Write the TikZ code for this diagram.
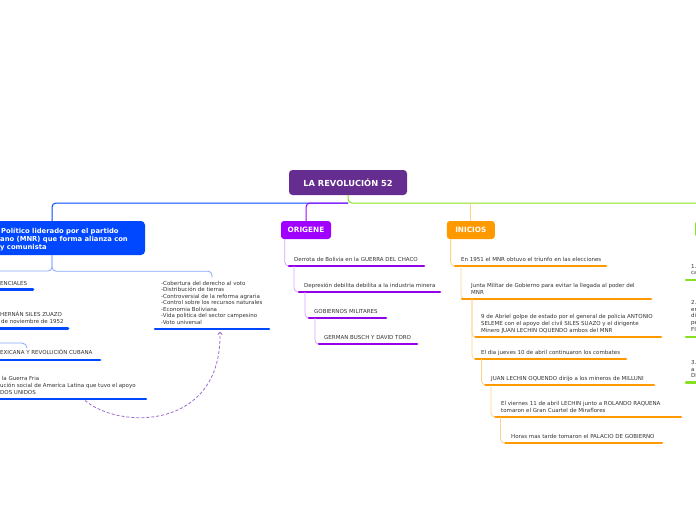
\documentclass[tikz,border=0pt]{standalone}
\usepackage{fontspec}
\setmainfont{DejaVu Sans}
\usetikzlibrary{arrows.meta}
\definecolor{tx}{HTML}{333333}
\definecolor{rootc}{HTML}{662D91}
\definecolor{blueM}{HTML}{0048FF}
\definecolor{blueL}{HTML}{88A8FF}
\definecolor{purM}{HTML}{A000FF}
\definecolor{purU}{HTML}{9400E8}
\definecolor{purL}{HTML}{D9A6FF}
\definecolor{oraM}{HTML}{FF9900}
\definecolor{oraL}{HTML}{FFD28A}
\definecolor{grM}{HTML}{88E020}
\definecolor{dashc}{HTML}{9A6AD0}
\tikzset{
  txt/.style={anchor=base west, inner sep=0pt, text=tx, font=\fontsize{5.5}{6.7}\selectfont, align=left},
  ulB/.style={draw=blueM, line width=2.6pt, line cap=round},
  ulP/.style={draw=purU, line width=2.6pt, line cap=round},
  ulO/.style={draw=oraM, line width=2.6pt, line cap=round},
  ulG/.style={draw=grM, line width=2.6pt, line cap=round},
  con/.style={line width=0.8pt, rounded corners=4pt},
  mainline/.style={line width=1pt, rounded corners=4pt},
  headbox/.style={rounded corners=3pt, inner sep=0pt, text=white, font=\bfseries\fontsize{7.3}{9}\selectfont},
  rootbox/.style={fill=rootc, rounded corners=3.5pt, minimum width=118pt, minimum height=25pt, inner sep=0pt, text=white, font=\bfseries\fontsize{8.3}{10}\selectfont},
}
\begin{document}
\begin{tikzpicture}[x=1pt,y=-1pt]
\useasboundingbox (0,0) rectangle (696,520);
\fill[white] (0,0) rectangle (696,520);

% main nodes
\node[rootbox] (root) at (348,182.5) {LA REVOLUCIÓN 52};
\node[fill=blueM, rounded corners=4pt, minimum width=186pt, minimum height=34pt, inner sep=0pt] (mnr) at (52,238) {};
\node[anchor=base west, inner sep=0pt, text=white, font=\bfseries\fontsize{6.8}{8.3}\selectfont, align=left] (mnrt) at (0,249.6)
  {\hspace{1pt}Político liderado por el partido\\ano (MNR) que forma alianza con\\y comunista};
\node[headbox, fill=purM, minimum width=50pt, minimum height=18pt] (og) at (306,230) {ORIGENE};
\node[headbox, fill=oraM, minimum width=48pt, minimum height=18pt] (ini) at (470.8,230) {INICIOS};
\node[headbox, fill=grM, minimum width=30pt, minimum height=16pt] (grn) at (710,229) {};

% main connectors
\coordinate (hub) at (348,203);
\coordinate (hubo) at (470.8,203);
\draw[mainline, blueM] (hub) -| (mnr.north);
\draw[mainline, purM] (hub) -| (og.north);
\draw[mainline, grM] (root.south) -- (hub) -| (grn.north);
\draw[con, oraL] (hubo) -- (ini.north);

% blue branch
\coordinate (bl) at (-10,271);
\coordinate (cobtop) at (212,277.5);
\draw[con, blueL] (mnr.south) |- (bl);
\draw[con, blueL] (mnr.south) -- ++(0,16) -| (cobtop);
\coordinate (bc1) at (-5,343);
\coordinate (bc2) at (27,348);
\draw[con, blueL, rounded corners=5pt] (bc1) -| (bc2);

\node[txt] (b1t) at (0,285.3) {ENCIALES};
\coordinate (b1) at (-10,289.5); \coordinate (b1e) at (33,289.5);
\draw[ulB] (b1) -- (b1e);
\node[txt] (b2t) at (0,323) {HERNÁN SILES ZUAZO\\\hspace{1pt}de noviembre de 1952};
\coordinate (b2) at (-10,328.3); \coordinate (b2e) at (68,328.3);
\draw[ulB] (b2) -- (b2e);
\node[txt] (b3t) at (0,354.7) {EXICANA Y REVOLUCIÓN CUBANA};
\coordinate (b3) at (-10,360); \coordinate (b3e) at (100,360);
\draw[ulB] (b3) -- (b3e);
\node[txt] (b4t) at (0,394) {\hspace{1.7pt}la Guerra Fria\\ución social de America Latina que tuvo el apoyo\\DOS UNIDOS};
\coordinate (b4) at (-10,399); \coordinate (b4e) at (146,399);
\draw[ulB] (b4) -- (b4e);

\node[txt, font=\fontsize{5.5}{6.5}\selectfont] (cobt) at (161,324.3) {-Cobertura del derecho al voto\\-Distribución de tierras\\-Controversial de la reforma agraria\\-Control sobre los recursos naturales\\-Economia Boliviana\\-Vida politica del sector campesino\\-Voto universal};
\coordinate (cob) at (155,329); \coordinate (cobe) at (269,329);
\draw[ulB] (cob) -- (cobe);

% dashed relation
\coordinate (relA) at (85,400.5);
\coordinate (relB) at (220,331.5);
\draw[dashc, line width=0.8pt, dash pattern=on 3pt off 2pt, -{Straight Barb[length=2.5pt,width=4.5pt]}]
  (relA) .. controls (120,430) and (222,430) .. (relB);

% ORIGENE branch
\node[txt] (o1t) at (294,261) {Derrota de Bolivia en la GUERRA DEL CHACO};
\coordinate (o1) at (289,266); \coordinate (o1e) at (424,266);
\draw[con, purL] ([xshift=4pt]og.south west) |- (o1);
\draw[ulP] (o1) -- (o1e);
\node[txt] (o2t) at (304,287.3) {Depresión debilita debilita a la industria minera};
\coordinate (o2) at (299,292); \coordinate (o2e) at (440,292);
\draw[con, purL] (o1) ++(5,0) |- (o2);
\draw[ulP] (o2) -- (o2e);
\node[txt] (o3t) at (314,313) {GOBIERNOS MILITARES};
\coordinate (o3) at (309,318); \coordinate (o3e) at (386,318);
\draw[con, purL] (o2) ++(6,0) |- (o3);
\draw[ulP] (o3) -- (o3e);
\node[txt] (o4t) at (324,339) {GERMAN BUSCH Y DAVID TORO};
\coordinate (o4) at (319,344); \coordinate (o4e) at (417,344);
\draw[con, purL] (o3) ++(6,0) |- (o4);
\draw[ulP] (o4) -- (o4e);

% INICIOS branch
\node[txt] (i1t) at (461,261.3) {En 1951 el MNR obtuvo el triunfo en las elecciones};
\coordinate (i1) at (455,266); \coordinate (i1e) at (606,266);
\draw[con, oraL] ([xshift=4pt]ini.south west) |- (i1);
\draw[ulO] (i1) -- (i1e);
\node[txt] (i2t) at (471,294.3) {Junta Militar de Gobierno para evitar la llegada al poder del\\MNR};
\coordinate (i2) at (462,299); \coordinate (i2e) at (651,299);
\draw[con, oraL] (i1) ++(6,0) |- (i2);
\draw[ulO] (i2) -- (i2e);
\node[txt] (i3t) at (481,332.3) {9 de Abriel golpe de estado por el general de policia ANTONIO\\SELEME con el apoyo del civil SILES SUAZO y el dirigente\\Minero JUAN LECHIN OQUENDO ambos del MNR};
\coordinate (i3) at (475.5,337); \coordinate (i3e) at (661,337);
\draw[con, oraL] (i2) ++(10,0) |- (i3);
\draw[ulO] (i3) -- (i3e);
\node[txt] (i4t) at (481,354) {El dia jueves 10 de abril continuaron los combates};
\coordinate (i4) at (475.5,359); \coordinate (i4e) at (626,359);
\draw[con, oraL] (i2) ++(10,0) |- (i4);
\draw[ulO] (i4) -- (i4e);
\node[txt] (i5t) at (491,380) {JUAN LECHIN OQUENDO dirijo a los mineros de MILLUNI};
\coordinate (i5) at (485.5,385); \coordinate (i5e) at (654,385);
\draw[con, oraL] (i4) ++(6,0) |- (i5);
\draw[ulO] (i5) -- (i5e);
\node[txt] (i6t) at (501,412.3) {El viernes 11 de abril LECHIN junto a ROLANDO RAQUENA\\tomaron el Gran Cuartel de Miraflores};
\coordinate (i6) at (495.5,417); \coordinate (i6e) at (681,417);
\draw[con, oraL] (i5) ++(5.5,0) |- (i6);
\draw[ulO] (i6) -- (i6e);
\node[txt] (i7t) at (511,438) {Horas mas tarde tomaron el PALACIO DE GOBIERNO};
\coordinate (i7) at (505.5,443); \coordinate (i7e) at (662,443);
\draw[con, oraL] (i6) ++(5,0) |- (i7);
\draw[ulO] (i7) -- (i7e);

% green branch (cut at the right edge)
\node[txt] (g1t) at (691,274.7) {1.\\ca};
\coordinate (g1) at (686,280); \coordinate (g1e) at (702,280);
\draw[ulG] (g1) -- (g1e);
\node[txt] (g2t) at (691,331.3) {2.\\en\\di\\pe\\FI};
\coordinate (g2) at (686,337); \coordinate (g2e) at (702,337);
\draw[ulG] (g2) -- (g2e);
\node[txt] (g3t) at (691,377.7) {3.\\a\\DI};
\coordinate (g3) at (686,382.3); \coordinate (g3e) at (702,382.3);
\draw[ulG] (g3) -- (g3e);
\end{tikzpicture}
\end{document}
